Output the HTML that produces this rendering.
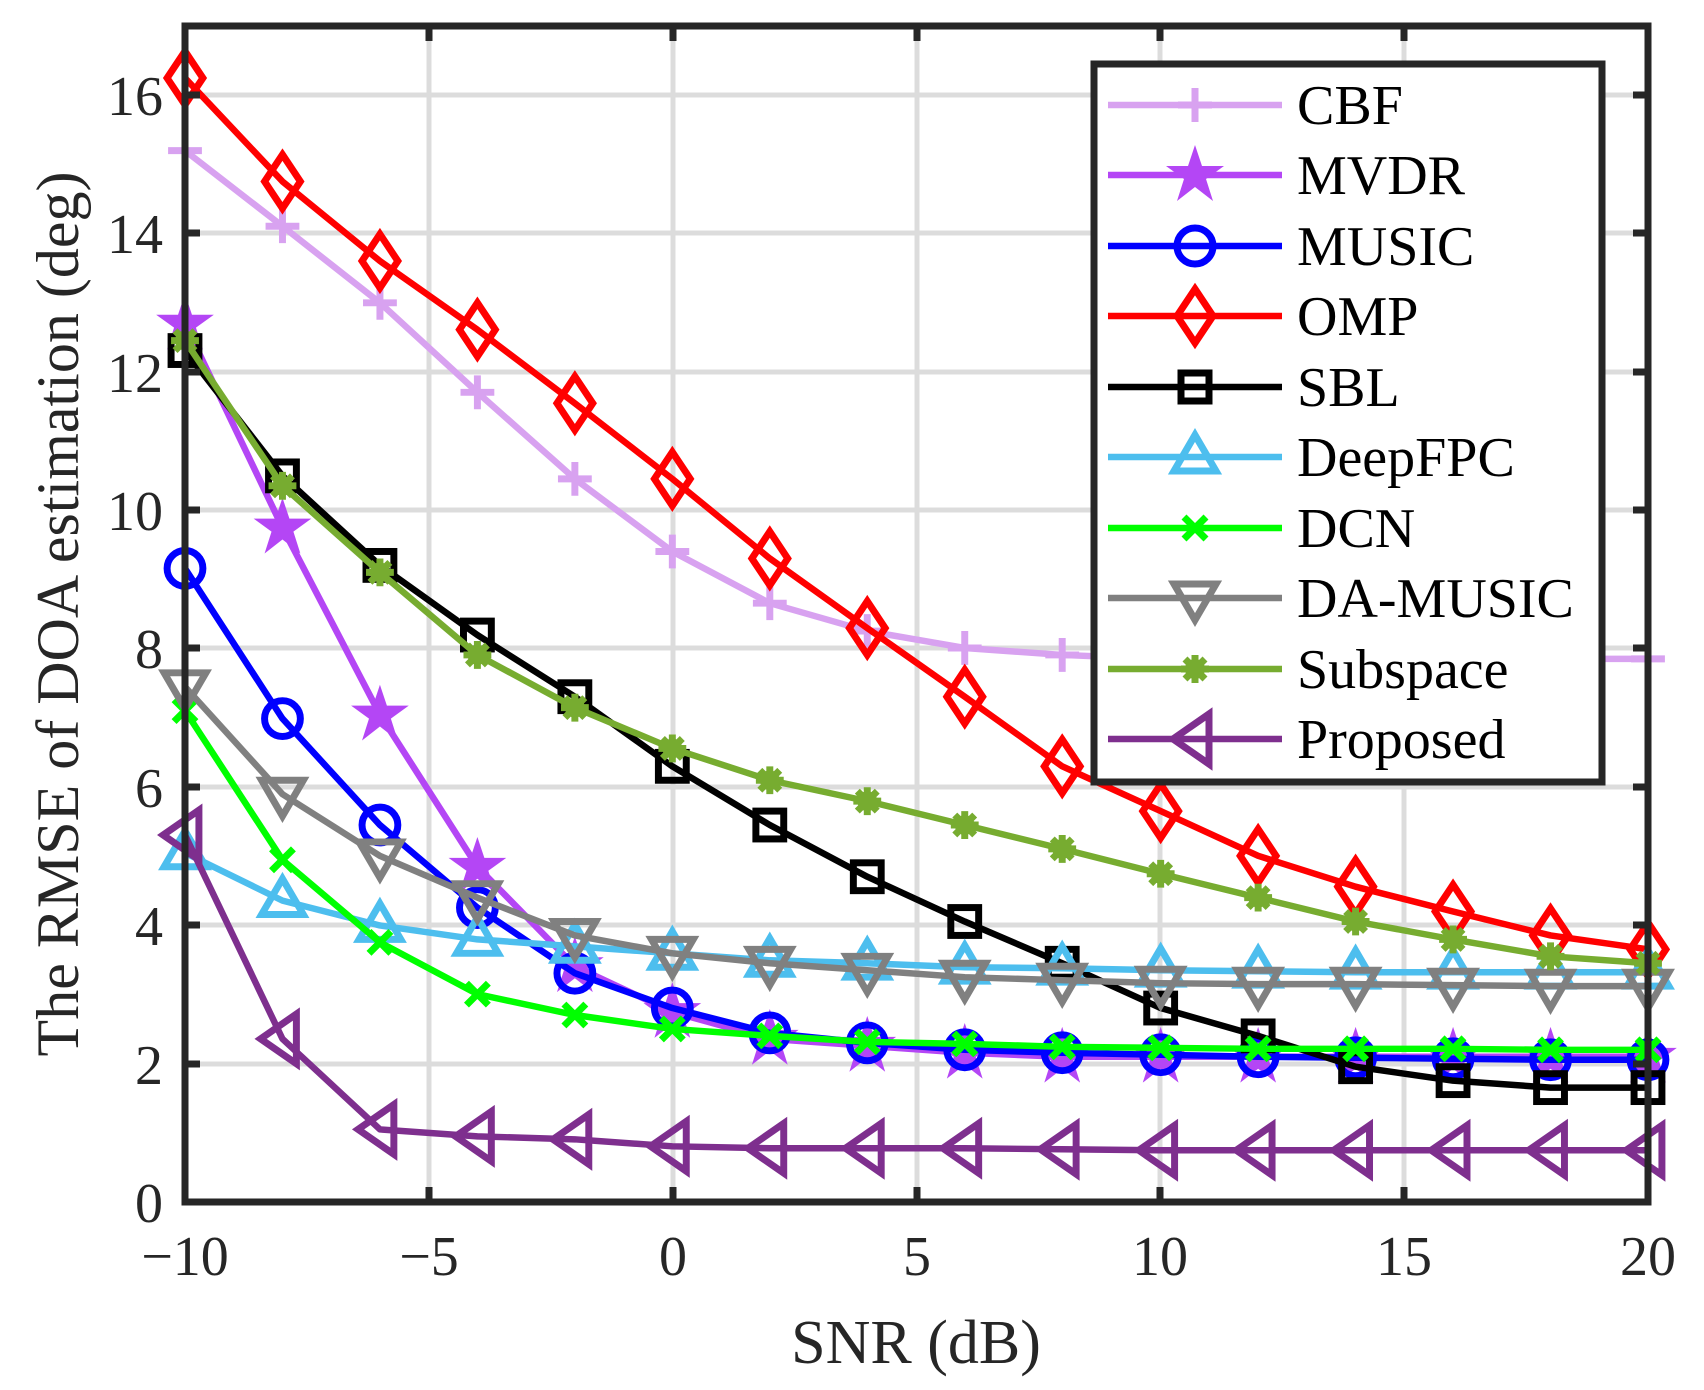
<!DOCTYPE html>
<html><head><meta charset="utf-8"><style>
html,body{margin:0;padding:0;background:#fff;}
svg{display:block;}
text{font-family:"Liberation Serif","Times New Roman",Times,"DejaVu Serif",serif;}
</style></head><body>
<svg width="1704" height="1390" viewBox="0 0 1704 1390" xmlns="http://www.w3.org/2000/svg">
<defs>
<marker id="mP" markerUnits="userSpaceOnUse" markerWidth="1" markerHeight="1" refX="0" refY="0" overflow="visible"><path d="M-17,0H17M0,-17V17" stroke="#d8a2f0" stroke-width="7" fill="none"/></marker>
<marker id="mS" markerUnits="userSpaceOnUse" markerWidth="1" markerHeight="1" refX="0" refY="0" overflow="visible"><polygon points="0,-30 7,-9 29,-9 11,4 18,26 0,12 -18,26 -11,4 -29,-9 -7,-9" fill="#b446f5"/></marker>
<marker id="mO" markerUnits="userSpaceOnUse" markerWidth="1" markerHeight="1" refX="0" refY="0" overflow="visible"><circle r="18" fill="none" stroke="#0000ff" stroke-width="7"/></marker>
<marker id="mD" markerUnits="userSpaceOnUse" markerWidth="1" markerHeight="1" refX="0" refY="0" overflow="visible"><polygon points="0,-27 18,0 0,27 -18,0" fill="none" stroke="#ff0000" stroke-width="7"/></marker>
<marker id="mQ" markerUnits="userSpaceOnUse" markerWidth="1" markerHeight="1" refX="0" refY="0" overflow="visible"><rect x="-14" y="-14" width="28" height="28" fill="none" stroke="#000" stroke-width="7"/></marker>
<marker id="mU" markerUnits="userSpaceOnUse" markerWidth="1" markerHeight="1" refX="0" refY="0" overflow="visible"><polygon points="0,-22 21,14 -21,14" fill="none" stroke="#4dbeee" stroke-width="7"/></marker>
<marker id="mX" markerUnits="userSpaceOnUse" markerWidth="1" markerHeight="1" refX="0" refY="0" overflow="visible"><path d="M-11,-11L11,11M-11,11L11,-11" stroke="#00ff00" stroke-width="7"/></marker>
<marker id="mV" markerUnits="userSpaceOnUse" markerWidth="1" markerHeight="1" refX="0" refY="0" overflow="visible"><polygon points="0,22 21,-14 -21,-14" fill="none" stroke="#808080" stroke-width="7"/></marker>
<marker id="mA" markerUnits="userSpaceOnUse" markerWidth="1" markerHeight="1" refX="0" refY="0" overflow="visible"><g stroke="#77ac30" stroke-width="7"><path d="M-14,0H14M0,-14V14M-10,-10L10,10M-10,10L10,-10"/></g><circle r="10" fill="#77ac30"/></marker>
<marker id="mL" markerUnits="userSpaceOnUse" markerWidth="1" markerHeight="1" refX="0" refY="0" overflow="visible"><polygon points="-22,0 14,-25 14,25" fill="none" stroke="#7e2f8e" stroke-width="7"/></marker>
</defs>
<g stroke="#dcdcdc" stroke-width="5">
<path d="M429,26V1202M673,26V1202M917,26V1202M1160,26V1202M1404,26V1202"/>
<path d="M185,1064H1648M185,925H1648M185,787H1648M185,648H1648M185,510H1648M185,372H1648M185,233H1648M185,95H1648"/>
</g>
<g fill="none" stroke-width="6.5" stroke-linejoin="round" transform="translate(185,1202) scale(0.99456,0.99468) translate(-186,-1207)">
<polyline stroke="#d8a2f0" marker-start="url(#mP)" marker-mid="url(#mP)" marker-end="url(#mP)" points="186,150 284,226 382,303 480,393 578,480 676,553 774,605 872,633 970,650 1068,657 1167,661 1265,661 1363,661 1461,661 1559,661 1657,661"/>
<polyline stroke="#b446f5" marker-start="url(#mS)" marker-mid="url(#mS)" marker-end="url(#mS)" points="186,324 284,529 382,717 480,870 578,970 676,1016 774,1043 872,1050 970,1057 1068,1061 1167,1061 1265,1061 1363,1061 1461,1061 1559,1061 1657,1061"/>
<polyline stroke="#0000ff" marker-start="url(#mO)" marker-mid="url(#mO)" marker-end="url(#mO)" points="186,570 284,721 382,828 480,911 578,977 676,1012 774,1037 872,1047 970,1054 1068,1057 1167,1059 1265,1061 1363,1062 1461,1063 1559,1064 1657,1064"/>
<polyline stroke="#ff0000" marker-start="url(#mD)" marker-mid="url(#mD)" marker-end="url(#mD)" points="186,77 284,181 382,261 480,330 578,404 676,480 774,560 872,630 970,699 1068,769 1167,814 1265,859 1363,890 1461,915 1559,939 1657,953"/>
<polyline stroke="#000" marker-start="url(#mQ)" marker-mid="url(#mQ)" marker-end="url(#mQ)" points="186,351 284,477 382,567 480,637 578,699 676,769 774,828 872,880 970,925 1068,967 1167,1012 1265,1040 1363,1071 1461,1085 1559,1092 1657,1092"/>
<polyline stroke="#4dbeee" marker-start="url(#mU)" marker-mid="url(#mU)" marker-end="url(#mU)" points="186,856 284,904 382,929 480,943 578,950 676,957 774,964 872,967 970,971 1068,972 1167,974 1265,975 1363,976 1461,976 1559,976 1657,976"/>
<polyline stroke="#00ff00" marker-start="url(#mX)" marker-mid="url(#mX)" marker-end="url(#mX)" points="186,713 284,863 382,946 480,998 578,1019 676,1033 774,1040 872,1046 970,1048 1068,1051 1167,1052 1265,1053 1363,1053 1461,1053 1559,1054 1657,1054"/>
<polyline stroke="#808080" marker-start="url(#mV)" marker-mid="url(#mV)" marker-end="url(#mV)" points="186,689 284,797 382,859 480,901 578,939 676,957 774,967 872,974 970,981 1068,984 1167,987 1265,988 1363,988 1461,989 1559,990 1657,990"/>
<polyline stroke="#77ac30" marker-start="url(#mA)" marker-mid="url(#mA)" marker-end="url(#mA)" points="186,341 284,487 382,574 480,657 578,710 676,751 774,783 872,804 970,828 1068,852 1167,877 1265,901 1363,925 1461,943 1559,960 1657,967"/>
<polyline stroke="#7e2f8e" marker-start="url(#mL)" marker-mid="url(#mL)" marker-end="url(#mL)" points="186,838 284,1043 382,1134 480,1141 578,1144 676,1151 774,1153 872,1153 970,1153 1068,1154 1167,1155 1265,1155 1363,1155 1461,1155 1559,1155 1657,1155"/>
</g>
<rect x="185" y="26" width="1463" height="1176" fill="none" stroke="#262626" stroke-width="7"/>
<g stroke="#262626" stroke-width="7">
<path d="M429,1202v-15M673,1202v-15M917,1202v-15M1160,1202v-15M1404,1202v-15"/>
<path d="M429,26v15M673,26v15M917,26v15M1160,26v15M1404,26v15"/>
<path d="M185,1064h15M185,925h15M185,787h15M185,648h15M185,510h15M185,372h15M185,233h15M185,95h15"/>
<path d="M1648,1064h-15M1648,925h-15M1648,787h-15M1648,648h-15M1648,510h-15M1648,372h-15M1648,233h-15M1648,95h-15"/>
</g>
<g font-size="56" fill="#262626" text-anchor="end">
<text x="163" y="1222">0</text><text x="163" y="1084">2</text><text x="163" y="945">4</text><text x="163" y="807">6</text><text x="163" y="668">8</text><text x="163" y="530">10</text><text x="163" y="392">12</text><text x="163" y="253">14</text><text x="163" y="115">16</text>
</g>
<g font-size="56" fill="#262626" text-anchor="middle">
<text x="185" y="1275">−10</text><text x="429" y="1275">−5</text><text x="673" y="1275">0</text><text x="917" y="1275">5</text><text x="1160" y="1275">10</text><text x="1404" y="1275">15</text><text x="1648" y="1275">20</text>
</g>
<text x="916" y="1363" font-size="62" fill="#262626" text-anchor="middle">SNR (dB)</text>
<text transform="translate(78,614) rotate(-90)" font-size="60" fill="#262626" text-anchor="middle">The RMSE of DOA estimation (deg)</text>
<rect x="1094" y="64" width="508" height="718" fill="#fff" stroke="#262626" stroke-width="7"/>
<g fill="none" stroke-width="6.5">
<polyline points="1108,105 1195,105 1282,105" stroke="#d8a2f0" marker-mid="url(#mP)"/>
<polyline points="1108,175 1195,175 1282,175" stroke="#b446f5" marker-mid="url(#mS)"/>
<polyline points="1108,246 1195,246 1282,246" stroke="#0000ff" marker-mid="url(#mO)"/>
<polyline points="1108,316 1195,316 1282,316" stroke="#ff0000" marker-mid="url(#mD)"/>
<polyline points="1108,387 1195,387 1282,387" stroke="#000" marker-mid="url(#mQ)"/>
<polyline points="1108,457 1195,457 1282,457" stroke="#4dbeee" marker-mid="url(#mU)"/>
<polyline points="1108,528 1195,528 1282,528" stroke="#00ff00" marker-mid="url(#mX)"/>
<polyline points="1108,598 1195,598 1282,598" stroke="#808080" marker-mid="url(#mV)"/>
<polyline points="1108,669 1195,669 1282,669" stroke="#77ac30" marker-mid="url(#mA)"/>
<polyline points="1108,739 1195,739 1282,739" stroke="#7e2f8e" marker-mid="url(#mL)"/>
</g>
<g font-size="56" fill="#000">
<text x="1297" y="124">CBF</text>
<text x="1297" y="194">MVDR</text>
<text x="1297" y="265">MUSIC</text>
<text x="1297" y="335">OMP</text>
<text x="1297" y="406">SBL</text>
<text x="1297" y="476">DeepFPC</text>
<text x="1297" y="547">DCN</text>
<text x="1297" y="617">DA-MUSIC</text>
<text x="1297" y="688">Subspace</text>
<text x="1297" y="758">Proposed</text>
</g>
</svg>
</body></html>
